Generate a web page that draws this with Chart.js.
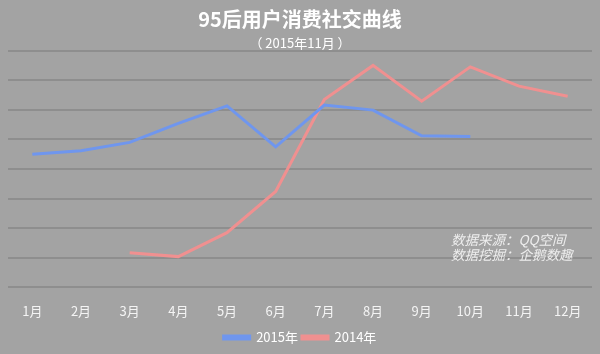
<!DOCTYPE html>
<html>
<head>
<meta charset="utf-8">
<script src="https://cdn.jsdelivr.net/npm/chart.js@4"></script>
<style>
  html, body { margin: 0; padding: 0; background: #a3a3a3; }
  #wrap { width: 600px; height: 354px; }
</style>
</head>
<body>
<div id="wrap"><canvas id="socialChart"></canvas></div>
<script>
const months = ['1月', '2月', '3月', '4月', '5月', '6月', '7月', '8月', '9月', '10月', '11月', '12月'];
const series2015 = [4.50, 4.62, 4.90, 5.54, 6.13, 4.75, 6.16, 5.99, 5.12, 5.10, null, null];
const series2014 = [null, null, 1.17, 1.04, 1.85, 3.24, 6.35, 7.50, 6.29, 7.45, 6.80, 6.46];
const sourceLines = ['数据来源：QQ空间', '数据挖掘：企鹅数趣'];

const FONT = '"Noto Sans CJK SC", "Noto Sans", sans-serif';

const bgPlugin = {
  id: 'bg',
  beforeDraw(chart) {
    const ctx = chart.ctx;
    ctx.save();
    ctx.fillStyle = '#a3a3a3';
    ctx.fillRect(0, 0, chart.width, chart.height);
    ctx.restore();
  }
};

const notePlugin = {
  id: 'note',
  afterDatasetsDraw(chart) {
    const ctx = chart.ctx;
    ctx.save();
    ctx.fillStyle = '#eeeeee';
    ctx.font = 'italic 13.5px ' + FONT;
    ctx.textAlign = 'left';
    ctx.textBaseline = 'middle';
    sourceLines.forEach((t, i) => ctx.fillText(t, 451, 240 + i * 15));
    ctx.restore();
  }
};

new Chart(document.getElementById('socialChart'), {
  type: 'line',
  data: {
    labels: months,
    datasets: [
      {
        label: '2015年',
        data: series2015,
        borderColor: '#6f96ee',
        backgroundColor: '#6f96ee',
        borderWidth: 3,
        pointRadius: 0,
        tension: 0
      },
      {
        label: '2014年',
        data: series2014,
        borderColor: '#f09090',
        backgroundColor: '#f09090',
        borderWidth: 3,
        pointRadius: 0,
        tension: 0
      }
    ]
  },
  options: {
    responsive: true,
    maintainAspectRatio: false,
    animation: false,
    layout: { padding: { left: 8, right: 8, top: 0, bottom: 0 } },
    plugins: {
      title: {
        display: true,
        text: '95后用户消费社交曲线',
        color: '#ffffff',
        font: { family: FONT, size: 20, weight: 'bold' },
        padding: { top: 7, bottom: 4 }
      },
      subtitle: {
        display: true,
        text: '（ 2015年11月 ）',
        color: '#ffffff',
        font: { family: FONT, size: 13 },
        padding: { top: 0, bottom: 0 }
      },
      legend: {
        position: 'bottom',
        labels: {
          color: '#ffffff',
          font: { family: FONT, size: 13 },
          boxWidth: 26,
          boxHeight: 3,
          padding: 4
        }
      },
      tooltip: { enabled: false }
    },
    scales: {
      x: {
        offset: true,
        grid: { display: false },
        border: { display: false },
        ticks: {
          color: '#f4f4f4',
          font: { family: FONT, size: 13 },
          padding: 8,
          maxRotation: 0
        }
      },
      y: {
        min: 0,
        max: 8,
        ticks: { display: false, stepSize: 1 },
        border: { display: false },
        grid: { color: '#8e8e8e', lineWidth: 2, drawTicks: false },
        afterFit(scale) { scale.width = 0; }
      }
    }
  },
  plugins: [bgPlugin, notePlugin]
});
</script>
</body>
</html>
